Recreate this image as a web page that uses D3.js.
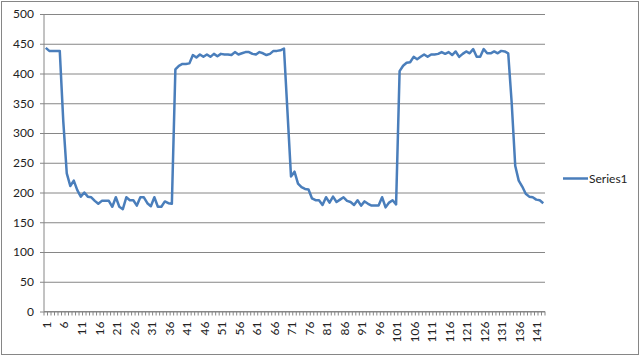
<!DOCTYPE html>
<html>
<head>
<meta charset="utf-8">
<script src="https://cdn.jsdelivr.net/npm/d3@7"></script>
<style>
  body { margin: 0; background: #fff; }
  svg text { font-family: Lato, "Liberation Sans", sans-serif; fill: #222; }
</style>
</head>
<body>
<svg id="chart" width="640" height="357"></svg>
<script>
// categories 1..143 and the values
var categories = d3.range(1, 144);
var series1 = [
  443, 438, 438, 438, 438,
  320, 232, 211, 220, 204, 193, 200, 193, 192, 186, 181, 186, 186, 186, 176, 192,
  176, 172, 192, 187, 187, 178, 192, 192, 182, 177, 192, 176, 176, 185, 182, 181,
  407, 413, 416, 416, 417, 431, 427, 432, 428, 432, 428, 433, 429, 433, 432, 432,
  431, 436, 432, 434, 436, 436, 433, 432, 436, 434, 431, 433, 438, 438, 439, 442,
  335, 227, 235, 215, 209, 206, 205, 190, 187, 187, 179, 192, 183, 193, 184, 188,
  192, 186, 184, 179, 187, 178, 185, 181, 178, 178, 178, 192, 175, 183, 187, 180,
  404, 413, 418, 419, 428, 424, 428, 432, 428, 432, 432, 433, 436, 433, 436, 431,
  437, 428, 433, 437, 434, 441, 428, 428, 441, 434, 434, 437, 434, 438, 437, 434,
  350, 245, 220, 210, 198, 193, 192, 188, 187, 182
];
var yTicks = [0, 50, 100, 150, 200, 250, 300, 350, 400, 450, 500];
var xLabels = categories.filter(function(c) { return (c - 1) % 5 === 0; });
var seriesName = "Series1";

var svg = d3.select("#chart");
// plot box (window.top is reserved, so not "top")
var plotLeft = 44, plotRight = 545, plotTop = 14, plotBottom = 311.5;

// outer frame
svg.append("rect")
    .attr("x", 1.5).attr("y", 1.5)
    .attr("width", 637).attr("height", 353)
    .attr("fill", "#fff")
    .attr("stroke", "#868686");

var x = d3.scaleBand()
    .domain(categories)
    .range([plotLeft, plotRight]);

var y = d3.scaleLinear()
    .domain([0, 500])
    .range([plotBottom, plotTop]);

// horizontal gridlines + y labels
var yAxis = d3.axisLeft(y)
    .tickValues(yTicks)
    .tickSize(-(plotRight - plotLeft))
    .tickPadding(10);

var gy = svg.append("g")
    .attr("transform", "translate(" + plotLeft + ",0)")
    .call(yAxis);
gy.select(".domain").remove();
gy.selectAll(".tick line").attr("stroke", "#868686").attr("x1", -4);
gy.selectAll(".tick text").attr("font-size", 12).attr("fill", "#222");

// y axis line
svg.append("line")
    .attr("x1", plotLeft).attr("x2", plotLeft)
    .attr("y1", plotTop).attr("y2", plotBottom)
    .attr("stroke", "#868686");

// x axis: tick at every category boundary
var boundaries = categories.map(function(c) { return x(c); }).concat([plotRight]);
svg.append("g").selectAll("line")
    .data(boundaries)
  .enter().append("line")
    .attr("x1", function(d) { return d; })
    .attr("x2", function(d) { return d; })
    .attr("y1", plotBottom)
    .attr("y2", plotBottom + 4)
    .attr("stroke", "#868686");

svg.append("line")
    .attr("x1", plotLeft).attr("x2", plotRight)
    .attr("y1", plotBottom).attr("y2", plotBottom)
    .attr("stroke", "#868686");

svg.append("g").selectAll("text")
    .data(xLabels)
  .enter().append("text")
    .attr("transform", function(d) {
      return "translate(" + (x(d) + x.bandwidth() / 2 + 1) + "," + (plotBottom + 10) + ") rotate(-90)";
    })
    .attr("text-anchor", "end")
    .attr("dy", "0.35em")
    .attr("font-size", 12)
    .text(function(d) { return d; });

// the series line
var line = d3.line()
    .x(function(d, i) { return x(categories[i]) + x.bandwidth() / 2; })
    .y(function(d) { return y(d); });

svg.append("path")
    .datum(series1)
    .attr("fill", "none")
    .attr("stroke", "#4a7ebb")
    .attr("stroke-width", 2.5)
    .attr("stroke-linejoin", "round")
    .attr("d", line);

// legend
var legend = svg.append("g").attr("transform", "translate(563,178.5)");
legend.append("line")
    .attr("x1", 0).attr("x2", 25)
    .attr("stroke", "#4a7ebb")
    .attr("stroke-width", 2.5);
legend.append("text")
    .attr("x", 26)
    .attr("dy", "0.35em")
    .attr("font-size", 12)
    .text(seriesName);
</script>
</body>
</html>
